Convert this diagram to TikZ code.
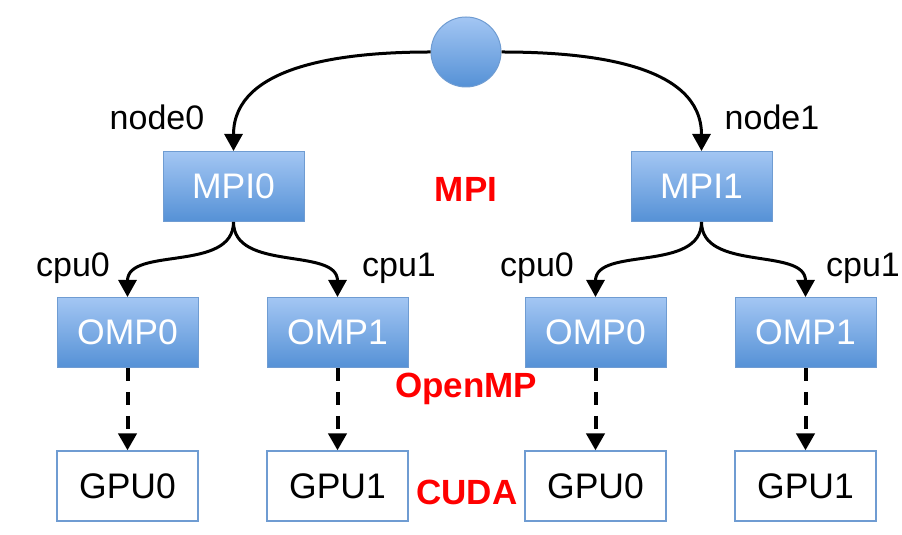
\documentclass[tikz,border=0pt]{standalone}
\usepackage{fontspec}
\setmainfont{Liberation Sans}
\usepackage{tikz}
\usetikzlibrary{arrows.meta}

\definecolor{boxtop}{HTML}{A3C6F3}
\definecolor{boxbot}{HTML}{5591D6}
\definecolor{boxline}{HTML}{6F9CD2}

\tikzset{
	procbox/.style={draw=boxline, line width=1pt, top color=boxtop, bottom color=boxbot,
		minimum width=141pt, minimum height=70pt, inner sep=0pt, text=white,
		font=\fontsize{35.5}{40}\selectfont},
	gpubox/.style={draw=boxline, line width=1.2pt, fill=white,
		minimum width=141pt, minimum height=70pt, inner sep=0pt,
		font=\fontsize{35.5}{40}\selectfont},
	lbl/.style={anchor=base, inner sep=0pt, font=\fontsize{34}{38}\selectfont},
	layer/.style={anchor=base, inner sep=0pt, text=red, font=\fontsize{35}{40}\selectfont\bfseries},
	link/.style={line width=3pt, -{Triangle[width=18pt,length=17pt]}},
	gpulink/.style={line width=4pt, dash pattern=on 13pt off 11pt, -{Triangle[width=18pt,length=17pt]}}
}

\begin{document}
\begin{tikzpicture}[x=1pt,y=1pt]
	\useasboundingbox (0,0) rectangle (902,535);

	\node[circle, draw=boxline, line width=1pt, top color=boxtop, bottom color=boxbot,
		minimum size=70pt, inner sep=0pt] (root) at (466,483) {};

	\node[procbox] (mpi0) at (233.5,348.5) {MPI0};
	\node[procbox] (mpi1) at (701.5,348.5) {MPI1};

	\node[procbox] (omp00) at (127.5,202.5) {OMP0};
	\node[procbox] (omp01) at (337.5,202.5) {OMP1};
	\node[procbox] (omp10) at (595.5,202.5) {OMP0};
	\node[procbox] (omp11) at (805.5,202.5) {OMP1};

	\node[gpubox] (gpu00) at (127.5,49) {GPU0};
	\node[gpubox] (gpu01) at (337.5,49) {GPU1};
	\node[gpubox] (gpu10) at (595.5,49) {GPU0};
	\node[gpubox] (gpu11) at (805.5,49) {GPU1};

	\draw[link] (root.west) to [out=180, in=90] (mpi0.north);
	\draw[link] (root.east) to [out=0, in=90] (mpi1.north);

	\draw[link] (mpi0.south) to [out=-90, in=90] (omp00.north);
	\draw[link] (mpi0.south) to [out=-90, in=90] (omp01.north);
	\draw[link] (mpi1.south) to [out=-90, in=90] (omp10.north);
	\draw[link] (mpi1.south) to [out=-90, in=90] (omp11.north);

	\foreach \g in {00,01,10,11}
		\draw[gpulink] (omp\g.south) -- (gpu\g.north);

	\node[lbl] (node0) at (157,405) {node0};
	\node[lbl] (node1) at (772,405) {node1};
	\node[lbl] (cpu00) at (73,258) {cpu0};
	\node[lbl] (cpu01) at (399,258) {cpu1};
	\node[lbl] (cpu10) at (537,258) {cpu0};
	\node[lbl] (cpu11) at (863,258) {cpu1};

	\node[layer] (mpi) at (466,333) {MPI};
	\node[layer] (openmp) at (466,137) {OpenMP};
	\node[layer] (cuda) at (467,30) {CUDA};
\end{tikzpicture}
\end{document}
